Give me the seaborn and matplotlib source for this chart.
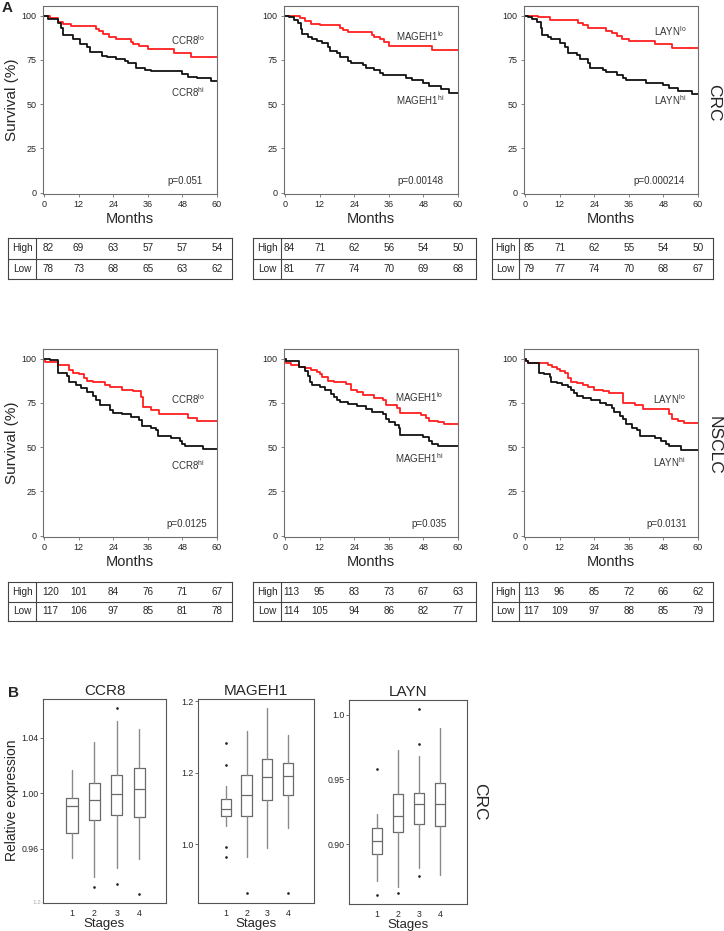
import numpy as np
import matplotlib
matplotlib.use("Agg")
import matplotlib.pyplot as plt
import matplotlib.transforms as mtransforms
import seaborn as sns

W, H = 724, 931

# ---------- Panel A: Kaplan-Meier curves (months, survival %) ----------
crc_ccr8_lo_t = [0, 2, 5, 6.5, 9.5, 18, 19, 20.5, 22.5, 25, 27, 30, 31, 33, 36, 45, 51, 60]
crc_ccr8_lo_s = [100, 98.5, 96.5, 95, 94, 92.5, 91, 89.5, 88, 87, 86.5, 85, 84, 83, 81, 79, 76.5, 76.5]
crc_ccr8_hi_t = [0, 1.5, 5, 6, 6.5, 10, 12.5, 15, 16, 20, 22, 25, 28, 29, 32, 35, 37, 48, 50, 53, 58, 60]
crc_ccr8_hi_s = [100, 98, 96, 93, 89, 86.5, 84, 82, 79.5, 77, 76.5, 75.5, 74.5, 73, 70.5, 69.5, 68.5, 67, 65.5, 65, 63, 63]

crc_mageh1_lo_t = [0, 5.2, 7, 9, 12, 19, 20, 22, 30, 31, 33, 34.5, 36, 51, 60]
crc_mageh1_lo_s = [100, 98.5, 97, 95.5, 94.5, 93, 92, 90.5, 89, 88, 86.5, 85, 83, 80.5, 80.5]
crc_mageh1_hi_t = [0, 1.5, 3, 4.5, 5.5, 6, 8, 9.5, 11, 13, 15, 15.5, 18, 19, 22, 23, 27, 28, 31, 33, 34,
                   42, 44, 48, 50, 54, 57, 60]
crc_mageh1_hi_s = [100, 99, 97.5, 96, 92.5, 89.5, 88, 86.5, 85.5, 84.5, 82.5, 80, 79, 76.5, 74.5, 73, 72,
                   70.5, 69, 67.5, 66.5, 65, 63.5, 62, 60, 58.5, 56.5, 56.5]

crc_layn_lo_t = [0, 4.6, 8.7, 18.5, 20, 22, 28, 30, 32, 33.5, 36, 45, 51, 60]
crc_layn_lo_s = [100, 99, 97.5, 96, 94.5, 93, 91.5, 90, 88.5, 87, 85.5, 84, 81.5, 81.5]
crc_layn_hi_t = [0, 1, 2.5, 4, 5.5, 6, 8, 9, 12, 14, 15, 18, 19, 22, 22.5, 27, 28, 32, 34, 35, 42, 48,
                 50, 53, 58, 60]
crc_layn_hi_s = [100, 99, 98, 96.5, 93, 89, 88, 86.5, 84.5, 82, 79, 77.5, 75.5, 73, 70.5, 69.5, 68, 66.5,
                 65, 63.5, 62, 60.5, 59, 57.5, 55.5, 55.5]

nsclc_ccr8_lo_t = [0, 0.3, 5, 8.5, 10, 12, 14, 15, 17, 21, 23, 27, 31, 33.5, 34.5, 37, 40, 50, 53, 60]
nsclc_ccr8_lo_s = [100, 98, 96.5, 93.5, 92, 91, 89, 87.5, 86.5, 85, 84, 82.5, 81.5, 78.5, 72.5, 71, 68.5,
                   66.5, 64.5, 64.5]
nsclc_ccr8_hi_t = [0, 2, 5, 8, 8.5, 11, 13, 15, 17, 18, 19.5, 23, 24, 27, 30, 33, 34, 37, 39, 39.5, 44,
                   47, 48, 49, 55, 60]
nsclc_ccr8_hi_s = [100, 99, 92, 90, 87, 85, 83.5, 81, 79, 76.5, 73.5, 71, 69.5, 68.5, 67, 65.5, 62, 61,
                   59.5, 56, 55, 53.5, 52, 50.5, 49, 49]

nsclc_mageh1_lo_t = [0, 0.5, 2, 5, 7, 9, 11, 12, 13, 15, 17, 21, 23, 25, 27, 31, 34, 35, 39, 40, 47, 49,
                     50, 53, 55, 60]
nsclc_mageh1_lo_s = [100, 97.5, 96.5, 95, 94.5, 93.5, 92.5, 91, 89.5, 87.5, 86.5, 85.5, 82, 81, 79.5, 78,
                     76.5, 73.5, 72, 69.5, 68, 66.5, 65, 64, 63, 63]
nsclc_mageh1_hi_t = [0, 0.3, 5, 7, 8, 8.5, 9.5, 12, 14, 16, 17, 18, 19, 22, 25, 28, 30, 34, 35, 36, 38,
                     39.5, 40, 48, 50, 51, 53, 60]
nsclc_mageh1_hi_s = [100, 98.7, 95, 93, 90, 87, 85, 84, 82.5, 80, 78.5, 76.5, 75.5, 74.5, 73, 71.5, 70,
                     68.5, 66, 64, 62.5, 61, 57, 55.5, 53.5, 52, 50.5, 50.5]

nsclc_layn_lo_t = [0, 0.5, 1, 8, 9.5, 11, 12, 14, 15, 16, 18, 20, 22, 24, 27, 29, 34, 38, 41, 50, 51,
                   53, 55, 60]
nsclc_layn_lo_s = [100, 98.5, 97.5, 96.5, 95, 94, 93, 92, 89, 87, 86, 85, 84, 82.5, 81.5, 80.5, 75, 74,
                   71.5, 68.5, 66, 65, 63.5, 63.5]
nsclc_layn_hi_t = [0, 0.5, 1, 5, 6.5, 8.5, 9, 11, 13, 15, 16, 17, 18, 20, 23, 26, 28, 30, 31, 33, 34,
                   35, 37, 39, 40, 45, 47, 49, 50, 54, 60]
nsclc_layn_hi_s = [100, 98.5, 97.5, 92, 91, 89.5, 87, 86, 85, 84, 82, 80.5, 79, 78, 76.5, 75, 74, 72, 70,
                   67.5, 66, 63, 61, 59.5, 56.5, 55, 53.5, 52, 50.5, 48.5, 48.5]

genes = ["CCR8", "MAGEH1", "LAYN"]
p_values_crc = ["p=0.051", "p=0.00148", "p=0.000214"]
p_values_nsclc = ["p=0.0125", "p=0.035", "p=0.0131"]

# numbers at risk, months 0..60
risk_months = [0, 12, 24, 36, 48, 60]
crc_high = [[82, 69, 63, 57, 57, 54], [84, 71, 62, 56, 54, 50], [85, 71, 62, 55, 54, 50]]
crc_low = [[78, 73, 68, 65, 63, 62], [81, 77, 74, 70, 69, 68], [79, 77, 74, 70, 68, 67]]
nsclc_high = [[120, 101, 84, 76, 71, 67], [113, 95, 83, 73, 67, 63], [113, 96, 85, 72, 66, 62]]
nsclc_low = [[117, 106, 97, 85, 81, 78], [114, 105, 94, 86, 82, 77], [117, 109, 97, 88, 85, 79]]

# ---------- Panel B: box plot summaries per stage ----------
stages = [1, 2, 3, 4]
ccr8_q1 = [0.9718, 0.9806, 0.9842, 0.9830]
ccr8_med = [0.9907, 0.9950, 0.9998, 1.0029]
ccr8_q3 = [0.9969, 1.0077, 1.0134, 1.0185]
ccr8_wlo = [0.9531, 0.9399, 0.9464, 0.9526]
ccr8_whi = [1.0165, 1.0373, 1.0519, 1.0465]
ccr8_fliers = [[], [0.9323], [1.0613, 0.9344], [0.9275]]

mageh1_q1 = [1.0785, 1.0785, 1.1234, 1.1366]
mageh1_med = [1.0990, 1.1366, 1.1879, 1.1899]
mageh1_q3 = [1.1254, 1.1935, 1.2384, 1.2280]
mageh1_wlo = [1.0513, 0.9627, 0.9896, 1.0440]
mageh1_whi = [1.1627, 1.3178, 1.3806, 1.3057]
mageh1_fliers = [[1.284, 1.2208, 0.9924, 0.9644], [0.8634], [], [0.8634]]

layn_q1 = [0.8922, 0.9091, 0.9155, 0.9140]
layn_med = [0.9026, 0.9219, 0.9310, 0.9310]
layn_q3 = [0.9126, 0.9385, 0.9398, 0.9475]
layn_wlo = [0.8716, 0.8664, 0.8816, 0.8760]
layn_whi = [0.9230, 0.9729, 0.9684, 0.9901]
layn_fliers = [[0.9584, 0.8605], [0.8623], [1.0044, 0.9777, 0.8754], []]

sns.set_style("white")
plt.rcParams["font.family"] = ["Liberation Sans", "DejaVu Sans"]
plt.rcParams["mathtext.default"] = "regular"

RED = "#ff1f1f"
BLACK = "#111111"
FRAME = "#6e6e6e"


def px_rect(l, t, r, b):
    return [l / W, 1 - b / H, (r - l) / W, (b - t) / H]


fig = plt.figure(figsize=(W / 100, H / 100), dpi=100)

col_x = [(43, 217), (284, 458), (524, 698)]
tab_x = [(8, 232, 36), (253, 476, 281), (492, 713, 519)]
rows = [
    dict(top=6, bot=194, ttop=238, tbot=279, high=crc_high, low=crc_low, pv=p_values_crc,
         curves=[(crc_ccr8_lo_t, crc_ccr8_lo_s, crc_ccr8_hi_t, crc_ccr8_hi_s),
                 (crc_mageh1_lo_t, crc_mageh1_lo_s, crc_mageh1_hi_t, crc_mageh1_hi_s),
                 (crc_layn_lo_t, crc_layn_lo_s, crc_layn_hi_t, crc_layn_hi_s)],
         lab=[(50, 86, 57), (47, 88.5, 52.5), (50.5, 91, 52.5)],
         px=[49, 47, 46.5]),
    dict(top=349, bot=537, ttop=582, tbot=621, high=nsclc_high, low=nsclc_low, pv=p_values_nsclc,
         curves=[(nsclc_ccr8_lo_t, nsclc_ccr8_lo_s, nsclc_ccr8_hi_t, nsclc_ccr8_hi_s),
                 (nsclc_mageh1_lo_t, nsclc_mageh1_lo_s, nsclc_mageh1_hi_t, nsclc_mageh1_hi_s),
                 (nsclc_layn_lo_t, nsclc_layn_lo_s, nsclc_layn_hi_t, nsclc_layn_hi_s)],
         lab=[(50, 77, 40), (46.5, 78.5, 44), (50, 77, 41.5)],
         px=[49.5, 50, 49]),
]

for row in rows:
    for j, gene in enumerate(genes):
        l, r = col_x[j]
        ax = fig.add_axes(px_rect(l, row["top"], r, row["bot"]))
        lo_t, lo_s, hi_t, hi_s = row["curves"][j]
        sns.lineplot(x=lo_t, y=lo_s, ax=ax, color=RED, drawstyle="steps-post",
                     estimator=None, linewidth=1.3)
        sns.lineplot(x=hi_t, y=hi_s, ax=ax, color=BLACK, drawstyle="steps-post",
                     estimator=None, linewidth=1.3)
        ax.set_xlim(-0.35, 60)
        ax.set_ylim(-0.8, 105.4)
        ax.set_xticks(risk_months)
        ax.set_yticks([0, 25, 50, 75, 100])
        ax.tick_params(direction="out", length=2, width=0.6, color=FRAME,
                       labelsize=6.5, pad=2.5, left=True, bottom=True)
        for sp in ax.spines.values():
            sp.set_color(FRAME)
            sp.set_linewidth(0.8)
        ax.set_xlabel("Months", fontsize=10.5, labelpad=2)
        if j == 0:
            ax.set_ylabel("Survival (%)", fontsize=11, labelpad=2)
        else:
            ax.set_ylabel("")
        xm, ylo, yhi = row["lab"][j]
        ax.text(xm, ylo, gene + "$^{lo}$", fontsize=7, color="#333333", ha="center", va="center")
        ax.text(xm, yhi, gene + "$^{hi}$", fontsize=7, color="#333333", ha="center", va="center")
        ax.text(row["px"][j], 6.6, row["pv"][j], fontsize=7, color="#333333", ha="center", va="center")

        # numbers-at-risk table
        tl, tr, tdiv = tab_x[j]
        tab = fig.add_axes(px_rect(tl, row["ttop"], tr, row["tbot"]))
        tab.set_xticks([])
        tab.set_yticks([])
        for sp in tab.spines.values():
            sp.set_color("#444444")
            sp.set_linewidth(0.8)
        tab.axhline(0.5, color="#444444", lw=0.8)
        tab.axvline((tdiv - tl) / (tr - tl), color="#444444", lw=0.8)
        mid = (tdiv - tl) / (tr - tl) / 2
        tab.text(mid, 0.75, "High", fontsize=7.2, ha="center", va="center", transform=tab.transAxes)
        tab.text(mid, 0.25, "Low", fontsize=7.2, ha="center", va="center", transform=tab.transAxes)
        trans = mtransforms.blended_transform_factory(ax.transData, tab.transAxes)
        for k, m in enumerate(risk_months):
            ha = "left" if k == 0 else "center"
            xx = m - 0.5 if k == 0 else m
            tab.text(xx, 0.75, str(row["high"][j][k]), fontsize=7.2, ha=ha, va="center", transform=trans)
            tab.text(xx, 0.25, str(row["low"][j][k]), fontsize=7.2, ha=ha, va="center", transform=trans)

fig.text(714 / W, 1 - 103 / H, "CRC", fontsize=12.5, rotation=270, ha="center", va="center")
fig.text(714 / W, 1 - 445 / H, "NSCLC", fontsize=12.5, rotation=270, ha="center", va="center")
fig.text(2 / W, 1 - 8 / H, "A", fontsize=11, fontweight="bold", ha="left", va="center")
fig.text(8 / W, 1 - 693 / H, "B", fontsize=11, fontweight="bold", ha="left", va="center")

# ---------- Panel B ----------
box_sets = [
    ("CCR8", (43, 699, 166, 903), (-0.3, 5.2), (0.921, 1.068), [0.96, 1.00, 1.04], ["0.96", "1.00", "1.04"],
     ccr8_q1, ccr8_med, ccr8_q3, ccr8_wlo, ccr8_whi, ccr8_fliers),
    ("MAGEH1", (198, 699, 314, 903), (-0.35, 5.26), (0.835, 1.407), [1.0, 1.2, 1.4], ["1.0", "1.2", "1.2"],
     mageh1_q1, mageh1_med, mageh1_q3, mageh1_wlo, mageh1_whi, mageh1_fliers),
    ("LAYN", (349, 700, 467, 904), (-0.33, 5.29), (0.8535, 1.0116), [0.90, 0.95, 1.00], ["0.90", "0.95", "1.0"],
     layn_q1, layn_med, layn_q3, layn_wlo, layn_whi, layn_fliers),
]

for name, rect, xl, yl, yt, ytl, q1, med, q3, wlo, whi, fl in box_sets:
    ax = fig.add_axes(px_rect(*rect))
    stats = [dict(q1=q1[i], med=med[i], q3=q3[i], whislo=wlo[i], whishi=whi[i], fliers=fl[i])
             for i in range(len(stages))]
    ax.bxp(stats, positions=stages, widths=0.5, showfliers=True,
           boxprops=dict(color="#6a6a6a", linewidth=0.9),
           medianprops=dict(color="#6a6a6a", linewidth=0.9),
           whiskerprops=dict(color="#8a8a8a", linewidth=1.0),
           capprops=dict(linewidth=0),
           flierprops=dict(marker="o", markersize=0.9, markerfacecolor="#222222",
                           markeredgecolor="#222222", linestyle="none"))
    ax.set_xlim(*xl)
    ax.set_ylim(*yl)
    ax.set_xticks(stages)
    ax.set_xticklabels([str(s) for s in stages])
    ax.set_yticks(yt)
    ax.set_yticklabels(ytl)
    ax.tick_params(axis="y", direction="out", length=2, width=0.6, color="#555555",
                   labelsize=6.3, pad=1, left=True)
    ax.tick_params(axis="x", length=0, labelsize=6.3, pad=4)
    for sp in ax.spines.values():
        sp.set_color("#555555")
        sp.set_linewidth(0.8)
    ax.set_title(name, fontsize=11, pad=3)
    ax.set_xlabel("Stages", fontsize=9.5, labelpad=0)

fig.text(12 / W, 1 - 800 / H, "Relative expression", fontsize=10, rotation=90, ha="center", va="center")
fig.text(38 / W, 1 - 902 / H, "1.2-", fontsize=4.5, color="#aaaaaa", ha="center", va="center")
fig.text(480 / W, 1 - 802 / H, "CRC", fontsize=12.5, rotation=270, ha="center", va="center")

fig.savefig("out.png", dpi=100)
